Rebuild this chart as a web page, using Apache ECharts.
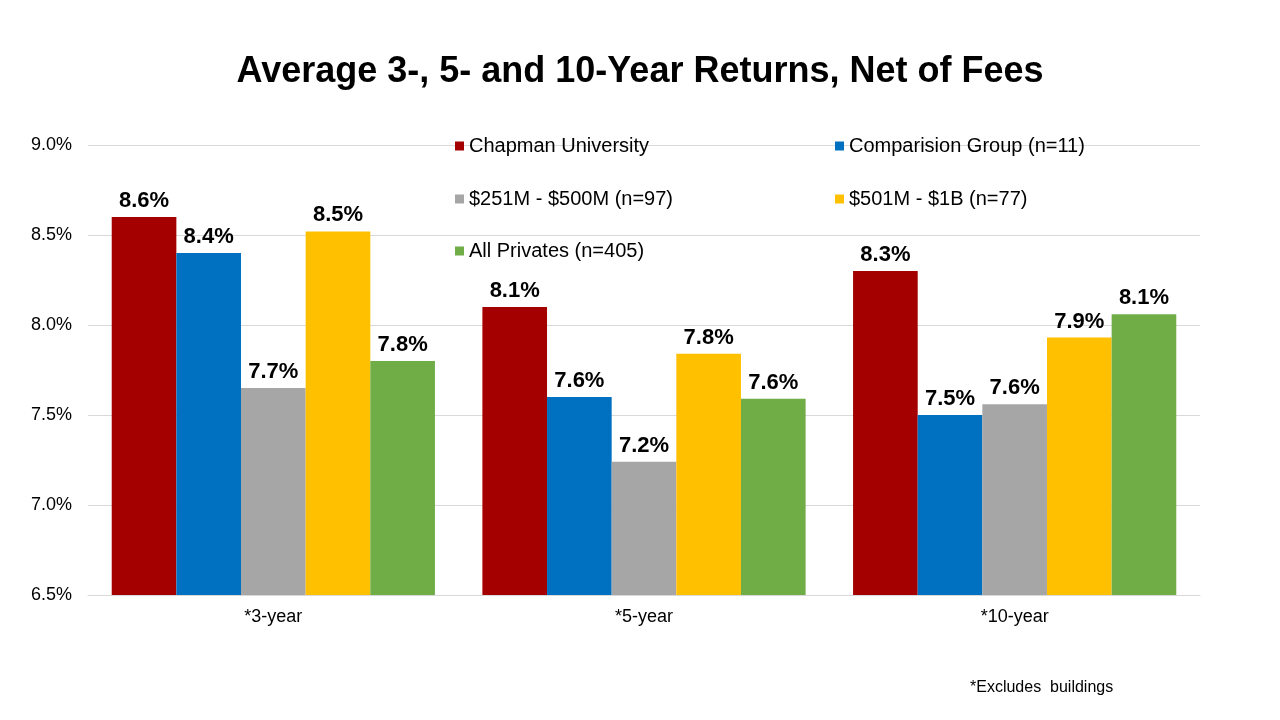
<!DOCTYPE html>
<html><head><meta charset="utf-8">
<script src="https://cdn.jsdelivr.net/npm/echarts@6/dist/echarts.min.js"></script>
<style>html,body{margin:0;padding:0;background:#fff}#c{width:1280px;height:720px}</style>
</head><body><div id="c"></div>
<script>
const categories = ['*3-year', '*5-year', '*10-year'];
const seriesNames = ['Chapman University', 'Comparision Group (n=11)', '$251M - $500M (n=97)', '$501M - $1B (n=77)', 'All Privates (n=405)'];
const chapman = [8.6, 8.1, 8.3];
const comparison = [8.4, 7.6, 7.5];
const mid = [7.65, 7.24, 7.56];
const large = [8.52, 7.84, 7.93];
const allPrivates = [7.8, 7.59, 8.06];
const yTicks = { min: 6.5, max: 9.0, interval: 0.5 };
const colors = ['#A50000', '#0070C0', '#A6A6A6', '#FFC000', '#70AD47'];
const values = [chapman, comparison, mid, large, allPrivates];

const font = 'Liberation Sans, Arial, sans-serif';
const legendPos = [[455, 136], [835, 136], [455, 189], [835, 189], [455, 241]];

const chart = echarts.init(document.getElementById('c'));
chart.setOption({
  animation: false,
  title: {
    text: 'Average 3-, 5- and 10-Year Returns, Net of Fees',
    left: 'center', top: 49,
    textStyle: { fontFamily: font, fontSize: 36, fontWeight: 'bold', color: '#000' }
  },
  graphic: [{
    type: 'text', left: 970, top: 680,
    style: { text: '*Excludes  buildings', font: '16px ' + font, fill: '#000' }
  }],
  legend: seriesNames.map((n, i) => ({
    data: [n], left: legendPos[i][0], top: legendPos[i][1], padding: 0,
    icon: 'rect', itemWidth: 9, itemHeight: 9, itemGap: 0,
    textStyle: { fontFamily: font, fontSize: 20, color: '#000' }
  })),
  grid: { left: 88, right: 80, top: 145, bottom: 125 },
  xAxis: {
    type: 'category', data: categories,
    axisLine: { lineStyle: { color: '#D9D9D9' } },
    axisTick: { show: false },
    axisLabel: { fontFamily: font, fontSize: 18, color: '#000', margin: 13 }
  },
  yAxis: {
    type: 'value', min: yTicks.min, max: yTicks.max, interval: yTicks.interval,
    axisLine: { show: false }, axisTick: { show: false },
    splitLine: { lineStyle: { color: '#D9D9D9' } },
    axisLabel: { fontFamily: font, fontSize: 18, color: '#000', margin: 16,
      formatter: v => v.toFixed(1) + '%' }
  },
  series: seriesNames.map((n, i) => ({
    name: n, type: 'bar', data: values[i],
    barGap: '0%', barCategoryGap: '12.8%',
    itemStyle: { color: colors[i] },
    label: { show: true, position: 'top', distance: 5,
      fontFamily: font, fontSize: 22, fontWeight: 'bold', color: '#000',
      formatter: p => p.value.toFixed(1) + '%' }
  }))
});
</script></body></html>
